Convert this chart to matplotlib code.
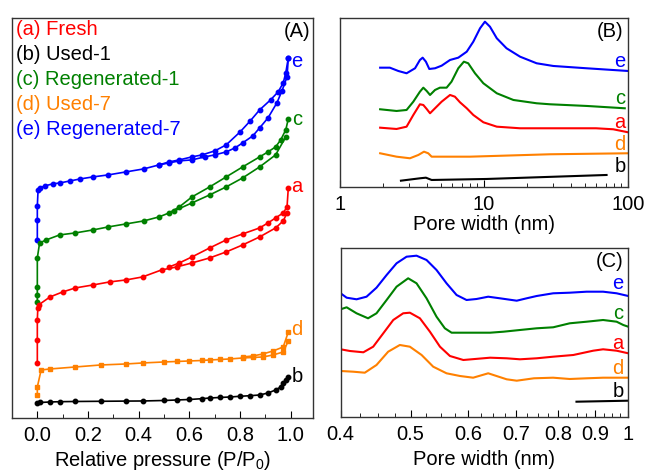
import numpy as np
import matplotlib
matplotlib.use("Agg")
import matplotlib.pyplot as plt
from matplotlib.ticker import MultipleLocator, FixedLocator, FormatStrFormatter, NullFormatter, LogLocator

plt.rcParams['font.family'] = ['Liberation Sans', 'DejaVu Sans']
plt.rcParams['mathtext.fontset'] = 'custom'
plt.rcParams['mathtext.rm'] = 'Liberation Sans'

RED, BLACK, GREEN, ORANGE, BLUE = '#ff0000', '#000000', '#008000', '#ff8000', '#0000ff'

# ---- panel A : N2 isotherms (arbitrary offset units) ----
e_ads_p = [0.0, 0.0, 0.0, 0.003, 0.01, 0.03, 0.06, 0.09, 0.13, 0.17, 0.22, 0.28, 0.35, 0.42, 0.48,
           0.52, 0.56, 0.61, 0.66, 0.70, 0.745, 0.78, 0.81, 0.85, 0.877, 0.91, 0.945, 0.965, 0.985, 0.99]
e_ads_v = [178, 198, 212, 228, 230, 232, 234, 235, 237, 239, 241, 243, 246, 249, 253,
           255, 257, 258, 261, 263, 266, 270, 275, 282, 290, 300, 315, 327, 341, 360]
e_des_p = [0.99, 0.98, 0.97, 0.95, 0.92, 0.877, 0.84, 0.80, 0.745, 0.70, 0.65, 0.61, 0.56, 0.52, 0.48]
e_des_v = [360, 345, 335, 326, 318, 308, 297, 286, 273, 267, 263, 261, 258, 256, 253]

c_ads_p = [0.0, 0.0, 0.0, 0.0, 0.009, 0.035, 0.088, 0.15, 0.22, 0.28, 0.35, 0.42, 0.48,
           0.54, 0.61, 0.68, 0.745, 0.81, 0.877, 0.94, 0.98]
c_ads_v = [116, 123, 131, 160, 175, 178, 183, 185, 188, 191, 194, 197, 201,
           207, 215, 223, 231, 240, 251, 263, 281]
c_des_p = [0.99, 0.98, 0.96, 0.94, 0.91, 0.877, 0.81, 0.745, 0.68, 0.61, 0.56, 0.52]
c_des_v = [299, 288, 278, 271, 266, 261, 251, 241, 231, 221, 211, 205]

a_ads_p = [0.0, 0.0, 0.0, 0.002, 0.005, 0.05, 0.10, 0.15, 0.22, 0.285, 0.35, 0.415, 0.49,
           0.55, 0.61, 0.68, 0.745, 0.81, 0.877, 0.94, 0.97, 0.985]
a_ads_v = [55, 78, 98, 110, 113, 121, 126, 130, 133, 136, 138, 141, 148,
           151, 155, 160, 166, 173, 181, 190, 197, 205]
a_des_p = [0.99, 0.985, 0.97, 0.94, 0.91, 0.877, 0.81, 0.745, 0.68, 0.61, 0.56, 0.52]
a_des_v = [230, 211, 205, 200, 195, 190, 184, 178, 170, 161, 155, 151]

d_ads_p = [0.0, 0.0, 0.015, 0.05, 0.15, 0.25, 0.35, 0.415, 0.50, 0.55, 0.60, 0.65, 0.68, 0.72,
           0.76, 0.81, 0.85, 0.89, 0.93, 0.97, 0.99]
d_ads_v = [23, 31, 48, 49, 51, 53, 54, 55, 56, 56.5, 57, 57.5, 58, 58.5,
           59, 60, 60.5, 61, 63, 66, 77]
d_des_p = [0.99, 0.97, 0.93, 0.89, 0.85, 0.81]
d_des_v = [86, 71, 67, 64, 62, 61]

b_p = [0.0, 0.01, 0.05, 0.09, 0.15, 0.25, 0.35, 0.415, 0.50, 0.55, 0.60, 0.65, 0.68, 0.72,
       0.76, 0.80, 0.84, 0.877, 0.91, 0.94, 0.96, 0.97, 0.98, 0.99]
b_v = [15, 15.5, 16, 16.3, 16.5, 16.7, 16.9, 17, 17.5, 18, 18.5, 19.3, 20, 20.5,
       21, 21.7, 22.3, 23, 25, 28, 31, 35, 38, 41]

# ---- panel B : mesopore size distribution ----
eB_w = [1.90, 2.22, 2.54, 2.90, 3.32, 3.59, 3.75, 3.95, 4.17, 4.57, 5.08, 5.81, 6.63, 7.59,
        8.43, 9.39, 10.15, 11.0, 12.27, 14.34, 17.8, 23.2, 30.3, 51.6, 100]
eB_v = [119.3, 119.3, 116, 113.7, 118.7, 127, 129.3, 125.3, 118, 118.7, 121.3, 127, 129.3, 135.3,
        145.3, 158.7, 165.3, 160.3, 148.7, 138.7, 130.3, 123.7, 121, 118.7, 116]
cB_w = [1.90, 2.47, 2.90, 3.23, 3.59, 3.79, 4.0, 4.22, 4.57, 4.94, 5.50, 5.95, 6.63, 7.25,
        7.77, 8.66, 9.9, 12.27, 16.0, 23.2, 28.7, 52, 95]
cB_v = [77.7, 76, 77, 85.3, 95.3, 99.3, 96, 92, 97, 99.3, 99.3, 105.3, 118.7, 125.3,
        123.7, 113.7, 103.7, 93.7, 87, 83.7, 82.7, 81, 78.7]
aB_w = [1.90, 2.47, 2.90, 3.23, 3.59, 3.79, 4.0, 4.22, 4.57, 5.08, 5.81, 6.28, 6.81, 7.59,
        8.43, 9.9, 12.27, 17.8, 30, 60, 79, 100]
aB_v = [59.3, 58, 60.3, 72, 82.7, 82, 78, 73.7, 78.7, 85.3, 92, 90.3, 84.7, 78.7,
        72, 64.7, 60.3, 58.7, 58.7, 58.7, 57.7, 54.7]
dB_w = [1.90, 2.47, 3.06, 3.5, 3.83, 4.1, 4.33, 8.0, 28.7, 100]
dB_v = [33.7, 30.3, 28.7, 32, 35.3, 33.7, 30.3, 30.3, 32.7, 33.7]
bB_w = [2.65, 3.6, 3.95, 4.33, 10.4, 71]
bB_v = [6.3, 8.7, 9.3, 7, 8, 12]

# ---- panel C : micropore size distribution ----
eC_w = [0.40, 0.4077, 0.4208, 0.4344, 0.4484, 0.4631, 0.478, 0.4935, 0.5094, 0.5259, 0.5429,
        0.5605, 0.5787, 0.5974, 0.6167, 0.6401, 0.6644, 0.701, 0.7236, 0.747, 0.7873, 0.830,
        0.876, 0.923, 0.9637, 1.0]
eC_v = [123.7, 119.3, 117.7, 120.3, 129.3, 142, 153.7, 160.3, 161.3, 157, 147,
        133.7, 122, 117, 118, 120.3, 118.7, 116.3, 118.7, 121, 123.7, 124.3,
        125.3, 125.3, 123.7, 121]
cC_w = [0.40, 0.4077, 0.4208, 0.4365, 0.4484, 0.4631, 0.478, 0.496, 0.5094, 0.5259, 0.5429,
        0.5575, 0.5696, 0.644, 0.672, 0.7082, 0.747, 0.7873, 0.830, 0.876, 0.923, 0.9637,
        0.9843, 1.0]
cC_v = [107.7, 109.7, 103.7, 98.7, 103.7, 117, 130.3, 138.7, 133.7, 118.7, 100.3,
        88.7, 84.3, 84.3, 85.3, 87, 88.7, 89.7, 93.7, 95.3, 97, 95.3,
        92, 90.3]
aC_w = [0.40, 0.412, 0.430, 0.4437, 0.4582, 0.473, 0.4882, 0.4987, 0.5149, 0.5316, 0.5489,
        0.5666, 0.5913, 0.644, 0.6788, 0.7082, 0.747, 0.787, 0.8394, 0.8944, 0.923, 0.9637, 1.0]
aC_v = [67.7, 66, 64.7, 70.3, 83.7, 97, 103.7, 104.3, 98.7, 85.3, 70.3,
        61, 57, 59.3, 58.7, 57.7, 58.7, 60.3, 62, 66.3, 67.7, 66.3, 63.7]
dC_w = [0.40, 0.4163, 0.432, 0.4484, 0.4654, 0.483, 0.4987, 0.5177, 0.5372, 0.5605, 0.585,
        0.6101, 0.6401, 0.6788, 0.701, 0.7405, 0.787, 0.830, 0.876, 0.923, 1.0]
dC_v = [46, 45.3, 44.3, 52, 65.3, 72, 70.3, 62, 50.3, 43.7, 41,
        39.3, 43.7, 37.7, 36.3, 38.7, 39.3, 38, 38.7, 39.3, 39.3]
bC_w = [0.848, 1.0]
bC_v = [15.3, 16.3]

legend_txt = ['(a) Fresh', '(b) Used-1', '(c) Regenerated-1', '(d) Used-7', '(e) Regenerated-7']
legend_col = [RED, BLACK, GREEN, ORANGE, BLUE]

fig = plt.figure(figsize=(6.47, 4.73), dpi=100)
axA = fig.add_axes([0.0185, 0.1163, 0.4655, 0.846])
axB = fig.add_axes([0.5255, 0.6047, 0.4451, 0.3573])
axC = fig.add_axes([0.5265, 0.1184, 0.4445, 0.3573])

FS = 14.5

def style(ax):
    for s in ax.spines.values():
        s.set_linewidth(1.0)
        s.set_color('#333333')
    ax.tick_params(axis='x', which='both', direction='in', top=False, labelsize=FS, pad=6)
    ax.tick_params(axis='x', which='major', length=5)
    ax.tick_params(axis='x', which='minor', length=3)
    ax.set_yticks([])

# panel A
mk = dict(lw=1.2, ms=3.2)
axA.plot(e_ads_p, e_ads_v, '-o', color=BLUE, **mk)
axA.plot(e_des_p, e_des_v, '-o', color=BLUE, **mk)
axA.plot(c_ads_p, c_ads_v, '-o', color=GREEN, **mk)
axA.plot(c_des_p, c_des_v, '-o', color=GREEN, **mk)
axA.plot(a_ads_p, a_ads_v, '-o', color=RED, **mk)
axA.plot(a_des_p, a_des_v, '-o', color=RED, **mk)
axA.plot(d_ads_p, d_ads_v, '-s', color=ORANGE, lw=1.2, ms=2.8)
axA.plot(d_des_p, d_des_v, '-s', color=ORANGE, lw=1.2, ms=2.8)
axA.plot(b_p, b_v, '-o', color=BLACK, **mk)
axA.set_xlim(-0.1, 1.088)
axA.set_ylim(0, 400)
axA.xaxis.set_major_locator(MultipleLocator(0.2))
axA.xaxis.set_minor_locator(MultipleLocator(0.1))
axA.xaxis.set_major_formatter(FormatStrFormatter('%.1f'))
style(axA)
axA.set_xlabel('Relative pressure (P/P$_\\mathregular{0}$)', fontsize=FS, labelpad=3)
for i, (t, c) in enumerate(zip(legend_txt, legend_col)):
    axA.text(0.012, 0.97 - i * 0.0625, t, color=c, fontsize=FS, transform=axA.transAxes,
             ha='left', va='center')
axA.text(0.99, 0.966, '(A)', fontsize=FS, transform=axA.transAxes, ha='right', va='center')
for t, c, y in zip('ecadb', [BLUE, GREEN, RED, ORANGE, BLACK], [0.89, 0.745, 0.578, 0.22, 0.1025]):
    axA.text(0.947, y, t, color=c, fontsize=FS, transform=axA.transAxes, ha='center', va='center')

# panel B
lw = 1.5
axB.plot(eB_w, eB_v, color=BLUE, lw=lw)
axB.plot(cB_w, cB_v, color=GREEN, lw=lw)
axB.plot(aB_w, aB_v, color=RED, lw=lw)
axB.plot(dB_w, dB_v, color=ORANGE, lw=lw)
axB.plot(bB_w, bB_v, color=BLACK, lw=lw)
axB.set_xscale('log')
axB.set_xlim(1, 100)
axB.set_ylim(0, 169)
axB.xaxis.set_major_locator(FixedLocator([1, 10, 100]))
axB.xaxis.set_major_formatter(FormatStrFormatter('%g'))
axB.xaxis.set_minor_locator(LogLocator(subs=np.arange(2, 10)))
axB.xaxis.set_minor_formatter(NullFormatter())
style(axB)
axB.set_xlabel('Pore width (nm)', fontsize=FS, labelpad=0.5)
axB.text(0.9375, 0.919, '(B)', fontsize=FS, transform=axB.transAxes, ha='center', va='center')
for t, c, y in zip('ecadb', [BLUE, GREEN, RED, ORANGE, BLACK], [0.741, 0.525, 0.379, 0.249, 0.120]):
    axB.text(0.972, y, t, color=c, fontsize=FS, transform=axB.transAxes, ha='center', va='center')

# panel C
axC.plot(eC_w, eC_v, color=BLUE, lw=lw)
axC.plot(cC_w, cC_v, color=GREEN, lw=lw)
axC.plot(aC_w, aC_v, color=RED, lw=lw)
axC.plot(dC_w, dC_v, color=ORANGE, lw=lw)
axC.plot(bC_w, bC_v, color=BLACK, lw=lw)
axC.set_xscale('log')
axC.set_xlim(0.4, 1.0)
axC.set_ylim(0, 169)
axC.xaxis.set_major_locator(FixedLocator([0.4, 0.5, 0.6, 0.7, 0.8, 0.9, 1.0]))
axC.xaxis.set_major_formatter(FormatStrFormatter('%g'))
axC.xaxis.set_minor_locator(MultipleLocator(0.025))
axC.xaxis.set_minor_formatter(NullFormatter())
style(axC)
axC.set_xlabel('Pore width (nm)', fontsize=FS, labelpad=4)
axC.text(0.936, 0.919, '(C)', fontsize=FS, transform=axC.transAxes, ha='center', va='center')
for t, c, y in zip('ecadb', [BLUE, GREEN, RED, ORANGE, BLACK], [0.791, 0.614, 0.436, 0.288, 0.150]):
    axC.text(0.965, y, t, color=c, fontsize=FS, transform=axC.transAxes, ha='center', va='center')

fig.savefig('out.png', dpi=100)
